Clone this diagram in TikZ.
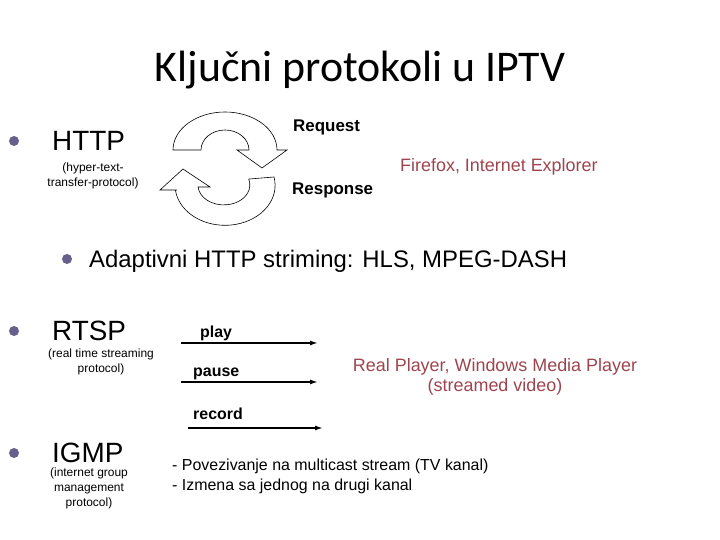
\documentclass[tikz,border=0pt]{standalone}
\usepackage{fontspec}
\setmainfont{Liberation Sans}
\newfontfamily\titlefont{Carlito}
\usetikzlibrary{arrows.meta}

\definecolor{bulletpurple}{RGB}{104,96,140}
\definecolor{apptext}{RGB}{158,68,78}

\tikzset{
  bullet/.style={circle, fill=bulletpurple, inner sep=0pt, minimum size=10bp},
  proto/.style={anchor=base west, inner sep=0pt, font=\fontsize{28}{30}\selectfont},
  note/.style={anchor=north, align=center, inner sep=0pt, font=\fontsize{12}{15}\selectfont},
  msg/.style={anchor=base west, inner sep=0pt, font=\bfseries\fontsize{17}{20}\selectfont},
  cmd/.style={anchor=base west, inner sep=0pt, font=\bfseries\fontsize{16}{19}\selectfont},
  app/.style={inner sep=0pt, text=apptext, font=\fontsize{18}{20}\selectfont},
  cyclearrow/.style={draw=black, fill=white, line width=0.6bp},
}

\begin{document}
\begin{tikzpicture}[x=1bp, y=1bp, >={Latex[length=8bp,width=5bp]}]
    \useasboundingbox (0,0) rectangle (720,540);

    % title
    \node (title) [anchor=base, inner sep=0pt, font=\titlefont\fontsize{44}{50}\selectfont] at (360,458) {Ključni protokoli u IPTV};

    % HTTP
    \node (b1) [bullet] at (14,399) {};
    \node (http) [proto] at (52,389) {HTTP};
    \node (httpnote) [note] at (93,377) {(hyper-text-\\transfer-protocol)};
    \draw[cyclearrow] (173,390) arc[start angle=180, end angle=0, x radius=52bp, y radius=38bp]
      -- (287,390) -- (262,372) -- (237,390) -- (249,390)
      arc[start angle=0, end angle=180, x radius=24bp, y radius=20bp] -- cycle;
    \draw[cyclearrow] (177,350) -- (160,350) -- (183,371) -- (210,353) -- (198,353)
      arc[start angle=186, end angle=377, x radius=26bp, y radius=20bp] -- (274,363)
      arc[start angle=12, end angle=-173, x radius=50bp, y radius=40bp] -- cycle;
    \node (req) [msg] at (293,408) {Request};
    \node (resp) [msg] at (292,345) {Response};
    \node (browsers) [app, anchor=base west] at (400,368) {Firefox, Internet Explorer};

    \node (b2) [bullet] at (67,281) {};
    \node (adaptive) [anchor=base west, inner sep=0pt, font=\fontsize{24}{28}\selectfont] at (89,272) {Adaptivni HTTP striming: HLS, MPEG-DASH};

    % RTSP
    \node (b3) [bullet] at (14,209) {};
    \node (rtsp) [proto] at (52,199) {RTSP};
    \node (rtspnote) [note] at (101,191) {(real time streaming\\protocol)};
    \node (play) [cmd] at (200,202) {play};
    \node (pause) [cmd] at (193,163) {pause};
    \node (record) [cmd] at (193,120) {record};
    \coordinate (play s) at (181,197);
    \coordinate (play e) at (318,197);
    \coordinate (pause s) at (181,158);
    \coordinate (pause e) at (318,158);
    \coordinate (record s) at (188,112);
    \coordinate (record e) at (323,112);
    \draw[->, line width=1.5bp] (play s) -- (play e);
    \draw[->, line width=1.5bp] (pause s) -- (pause e);
    \draw[->, line width=1.5bp] (record s) -- (record e);
    \node (players) [app, anchor=north, align=center] at (495,182) {Real Player, Windows Media Player\\(streamed video)};

    % IGMP
    \node (b4) [bullet] at (14,87) {};
    \node (igmp) [proto] at (52,77) {IGMP};
    \node (igmpnote) [note] at (89,72) {(internet group\\management\\protocol)};
    \node (tasks) [anchor=north west, align=left, inner sep=0pt, font=\fontsize{16}{20}\selectfont] at (172,81)
      {- Povezivanje na multicast stream (TV kanal)\\- Izmena sa jednog na drugi kanal};
\end{tikzpicture}
\end{document}
